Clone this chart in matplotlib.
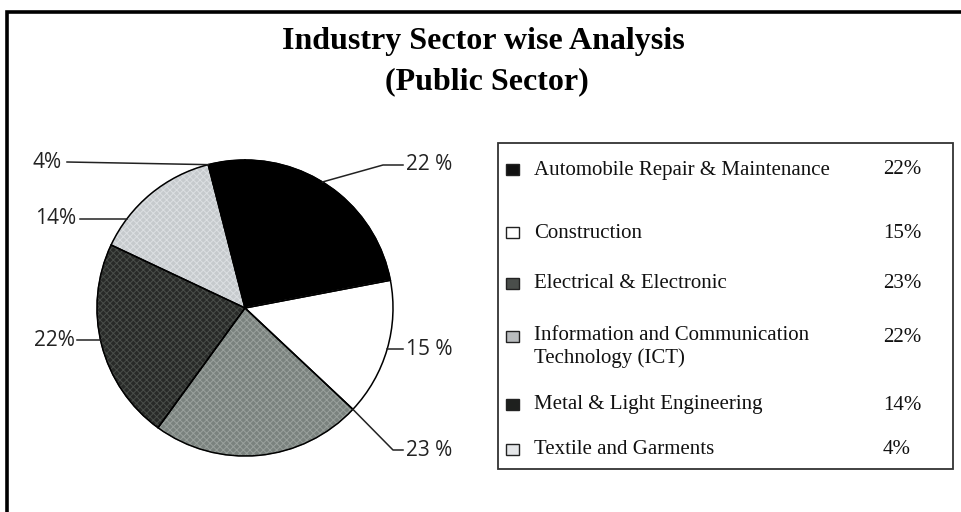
import numpy as np
import matplotlib.pyplot as plt

# pie data, clockwise from 12 o'clock
sectors = ['Automobile Repair & Maintenance', 'Construction', 'Electrical & Electronic',
           'Information and Communication\nTechnology (ICT)', 'Metal & Light Engineering',
           'Textile and Garments']
shares = [22, 15, 23, 22, 14, 4]
pie_labels = ['22 %', '15 %', '23 %', '22%', '14%', '4%']
legend_pct = ['22%', '15%', '23%', '22%', '14%', '4%']

fill_colors = ['#000000', '#ffffff', '#7a827e', '#282a28', '#c6cacd', '#000000']
hatch_colors = ['#000000', '#ffffff', '#9aa19d', '#4a4e4a', '#dcdfe2', '#000000']
icon_colors = ['#111111', '#ffffff', '#4a4e4b', '#b9bcbe', '#1e201e', '#e4e6e8']

W, H = 961, 512
fig = plt.figure(figsize=(W / 100, H / 100), dpi=100)
ax = fig.add_axes([0, 0, 1, 1])

# outer frame (left and top only visible in the scan)
ax.plot([7, 7, W], [0, H - 12, H - 12], color='black', lw=2.6, solid_joinstyle='miter')

# title
title_font = dict(ha='center', va='center', fontsize=23, fontweight='bold',
                  family='Liberation Serif')
ax.text(483, H - 42, 'Industry Sector wise Analysis', **title_font)
ax.text(487, H - 82, '(Public Sector)', **title_font)

# pie: base fill, fine hatch overlay, then outlines
cx, cy, r = 245, H - 308, 148
plt.rcParams['hatch.linewidth'] = 0.7
pie_kw = dict(startangle=90, counterclock=False, center=(cx, cy), radius=r, frame=True)
bw, _ = ax.pie(shares, colors=fill_colors, wedgeprops=dict(linewidth=0.8), **pie_kw)
for w, fc in zip(bw, fill_colors):
    w.set_edgecolor(fc)
hw, _ = ax.pie(shares, colors=['none'] * len(shares),
               wedgeprops=dict(linewidth=0), **pie_kw)
for w, hc, fc in zip(hw, hatch_colors, fill_colors):
    if hc != fc:
        w.set_hatch('xxxxx')
        w.set_edgecolor(hc)
ow, _ = ax.pie(shares, colors=['none'] * len(shares),
               wedgeprops=dict(linewidth=1.1, edgecolor='black'), **pie_kw)

ax.set_xlim(0, W)
ax.set_ylim(0, H)
ax.set_aspect('equal')
ax.axis('off')


def edge_point(deg):
    a = np.deg2rad(deg)
    return cx + r * np.cos(a), cy + r * np.sin(a)


lab_font = dict(fontsize=15, family='Open Sans', color='#222222', va='center')
lc = dict(color='#222222', lw=1.1)

# 22 % (automobile) - upper right
px, py = edge_point((ow[0].theta1 + ow[0].theta2) / 2 + 8)
ax.plot([px, 383, 403], [py, H - 165, H - 165], **lc)
ax.text(406, H - 165, pie_labels[0], ha='left', **lab_font)
# 15 % (construction) - right
px, py = edge_point((ow[1].theta1 + ow[1].theta2) / 2)
ax.plot([px, 403], [py, py], **lc)
ax.text(406, py, pie_labels[1], ha='left', **lab_font)
# 23 % - at the construction / electrical boundary
px, py = edge_point(ow[1].theta1)
ax.plot([px, 393, 403], [py, H - 450, H - 450], **lc)
ax.text(406, H - 450, pie_labels[2], ha='left', **lab_font)
# 22% (ICT) - left
px, py = edge_point(192.5)
ax.plot([77, px], [py, py], **lc)
ax.text(75, py, pie_labels[3], ha='right', **lab_font)
# 14% (metal) - upper left
px, py = edge_point(143)
ax.plot([80, px], [py, py], **lc)
ax.text(76, py, pie_labels[4], ha='right', **lab_font)
# 4% (textile) - top
px, py = edge_point(ow[5].theta2)
ax.plot([67, px], [H - 162, py], **lc)
ax.text(62, H - 162, pie_labels[5], ha='right', **lab_font)

# legend box
ax.add_patch(plt.Rectangle((498, H - 469), 455, 326, facecolor='white',
                           edgecolor='#333333', lw=1.3))
row_y = [170, 233, 284, 337, 405, 450]
leg_font = dict(fontsize=15, family='Liberation Serif', color='#111111', ha='left')
for name, pct, ic, y in zip(sectors, legend_pct, icon_colors, row_y):
    ax.add_patch(plt.Rectangle((506, H - y - 5), 13, 11, facecolor=ic,
                               edgecolor='#222222', lw=1.0))
    if '\n' in name:
        ax.text(534, H - y + 11, name, va='top', linespacing=1.25, **leg_font)
    else:
        ax.text(534, H - y, name, va='center', **leg_font)
    ax.text(883, H - y, pct, va='center', **leg_font)

fig.savefig('out.png', dpi=100)
